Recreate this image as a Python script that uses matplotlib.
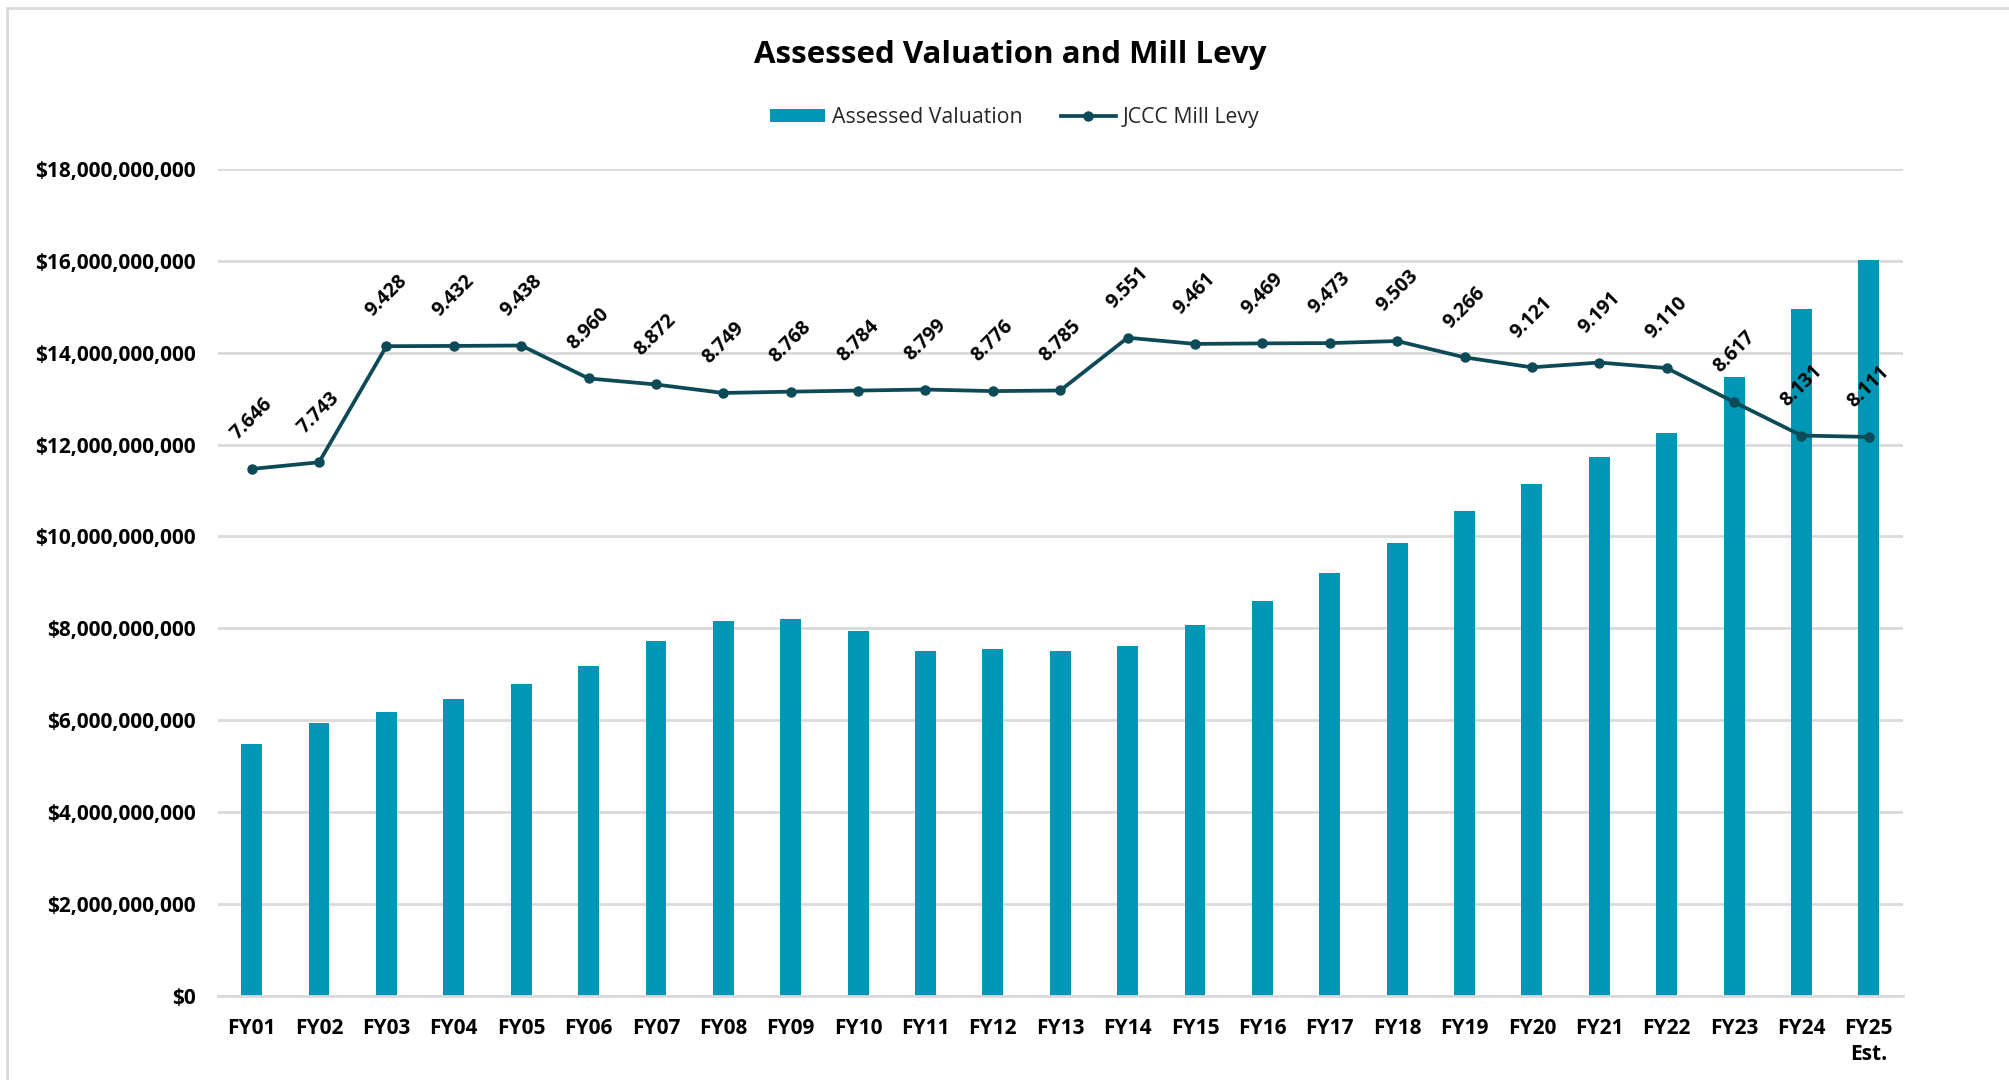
import matplotlib
matplotlib.use("Agg")
import matplotlib.pyplot as plt
import matplotlib.ticker as mticker
from matplotlib.patches import Rectangle
from matplotlib.lines import Line2D
from matplotlib.patches import Patch

plt.rcParams['font.family'] = ['Open Sans', 'DejaVu Sans']

categories = ["FY01", "FY02", "FY03", "FY04", "FY05", "FY06", "FY07", "FY08", "FY09",
              "FY10", "FY11", "FY12", "FY13", "FY14", "FY15", "FY16", "FY17", "FY18",
              "FY19", "FY20", "FY21", "FY22", "FY23", "FY24", "FY25\nEst."]
assessed_valuation = [5.47e9, 5.94e9, 6.17e9, 6.45e9, 6.78e9, 7.17e9, 7.73e9, 8.15e9, 8.21e9,
                      7.95e9, 7.51e9, 7.54e9, 7.51e9, 7.62e9, 8.07e9, 8.60e9, 9.21e9, 9.85e9,
                      10.55e9, 11.14e9, 11.72e9, 12.25e9, 13.48e9, 14.96e9, 16.02e9]
mill_levy = [7.646, 7.743, 9.428, 9.432, 9.438, 8.960, 8.872, 8.749, 8.768, 8.784, 8.799,
             8.776, 8.785, 9.551, 9.461, 9.469, 9.473, 9.503, 9.266, 9.121, 9.191, 9.110,
             8.617, 8.131, 8.111]

BAR_COLOR = '#0097B7'
LINE_COLOR = '#0C4A57'
GRID_COLOR = '#D9D9D9'

fig = plt.figure(figsize=(20.09, 10.80), dpi=100)
ax = fig.add_axes([0.1085, 0.0781, 0.8385, 0.7654])
x = list(range(len(categories)))

ax.bar(x, assessed_valuation, width=0.31, color=BAR_COLOR, zorder=2)
ax.set_xlim(-0.5, len(categories) - 0.5)
ax.set_ylim(0, 18e9)
ax.yaxis.set_major_locator(mticker.MultipleLocator(2e9))
ax.yaxis.set_major_formatter(mticker.FuncFormatter(lambda v, p: f"${v:,.0f}"))
ax.grid(axis='y', color=GRID_COLOR, linewidth=2, zorder=0)
ax.set_axisbelow(True)
for s in ['top', 'right', 'left']:
    ax.spines[s].set_visible(False)
ax.spines['bottom'].set_color(GRID_COLOR)
ax.spines['bottom'].set_linewidth(2)
ax.tick_params(axis='both', length=0)
ax.tick_params(axis='y', pad=16, labelsize=15)
ax.tick_params(axis='x', pad=16, labelsize=15)
ax.set_xticks(x)
ax.set_xticklabels(categories, linespacing=1.35)
for lab in ax.get_xticklabels() + ax.get_yticklabels():
    lab.set_fontweight('bold')
    lab.set_color('black')

ax2 = ax.twinx()
ax2.set_ylim(0, 12)
ax2.plot(x, mill_levy, color=LINE_COLOR, linewidth=2.7, marker='o', markersize=6.5, zorder=3)
ax2.axis('off')
for xi, v in zip(x, mill_levy):
    ax2.annotate(f"{v:.3f}", (xi, v), xytext=(0, 36), textcoords='offset points',
                 ha='center', va='center', rotation=45, fontsize=14, fontweight='bold',
                 color='black')

fig.text(0.503, 0.949, "Assessed Valuation and Mill Levy", ha='center', va='center',
         fontsize=22.5, fontweight='bold', color='black')

handles = [Patch(facecolor=BAR_COLOR, edgecolor='none'),
           Line2D([0], [0], color=LINE_COLOR, linewidth=2.7, marker='o', markersize=6.5)]
fig.legend(handles, ["Assessed Valuation", "JCCC Mill Levy"], loc='center',
           bbox_to_anchor=(0.505, 0.891), ncol=2, frameon=False, fontsize=15.3,
           handlelength=2.6, handleheight=0.6, columnspacing=1.8, handletextpad=0.3,
           labelcolor='#262626')

fig.patches.append(Rectangle((7 / 2009, -0.05), 1.1, (1080 - 8) / 1080 + 0.05,
                             transform=fig.transFigure, fill=False,
                             edgecolor=GRID_COLOR, linewidth=2, zorder=0))

fig.savefig("out.png", dpi=100, facecolor='white')
